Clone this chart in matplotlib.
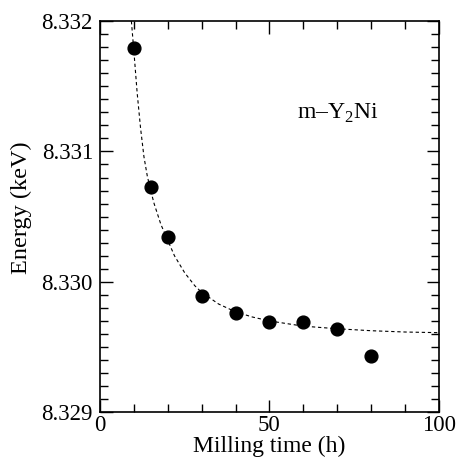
import matplotlib.pyplot as plt
from matplotlib.ticker import MultipleLocator, FormatStrFormatter

plt.rcParams['font.family'] = ['Liberation Serif', 'DejaVu Serif']
plt.rcParams['mathtext.fontset'] = 'custom'
plt.rcParams['mathtext.rm'] = 'Liberation Serif'

# measured points
milling_time = [10, 15, 20, 30, 40, 50, 60, 70, 80]
energy = [8.33179, 8.33073, 8.33034, 8.32989, 8.32976, 8.32969, 8.32969, 8.32964, 8.32943]

# dashed fit curve
fit_time = [9.3, 10, 11, 12, 13, 14, 15, 16, 18, 20, 22, 25, 28, 30, 35,
            40, 45, 50, 60, 70, 80, 90, 100]
fit_energy = [8.33200, 8.33178, 8.33145, 8.33118, 8.33096, 8.33081, 8.33070,
              8.33060, 8.33044, 8.33032, 8.33020, 8.33007, 8.32997, 8.32992,
              8.32983, 8.32977, 8.32973, 8.32970, 8.32966, 8.32964, 8.329625,
              8.329615, 8.32961]

fig = plt.figure(figsize=(4.58, 4.58), dpi=100)
ax = fig.add_axes([0.218, 0.1, 0.7405, 0.854])

ax.plot(fit_time, fit_energy, color='black', linestyle=(0, (3, 2.5)), linewidth=0.8)
ax.plot(milling_time, energy, 'o', color='black', markersize=9.2)

ax.set_xlim(0, 100)
ax.set_ylim(8.329, 8.332)
ax.xaxis.set_major_locator(MultipleLocator(50))
ax.xaxis.set_minor_locator(MultipleLocator(10))
ax.yaxis.set_major_locator(MultipleLocator(0.001))
ax.yaxis.set_minor_locator(MultipleLocator(0.0001))
ax.yaxis.set_major_formatter(FormatStrFormatter('%.3f'))

ax.tick_params(which='both', direction='in', top=True, right=True,
               labelsize=16.5, width=1)
ax.tick_params(which='major', length=9)
ax.tick_params(which='minor', length=6)
ax.tick_params(axis='x', which='major', pad=2)
ax.tick_params(axis='y', which='major', pad=5)
for s in ax.spines.values():
    s.set_linewidth(1.2)

ax.set_xlabel('Milling time (h)', fontsize=17, labelpad=0)
ax.set_ylabel('Energy (keV)', fontsize=17.5)
ax.yaxis.set_label_coords(-0.20, 0.522)

ax.text(58, 8.33129, 'm\u2013Y$_2$Ni', fontsize=17, va='center')

fig.savefig('out.png', dpi=100)
